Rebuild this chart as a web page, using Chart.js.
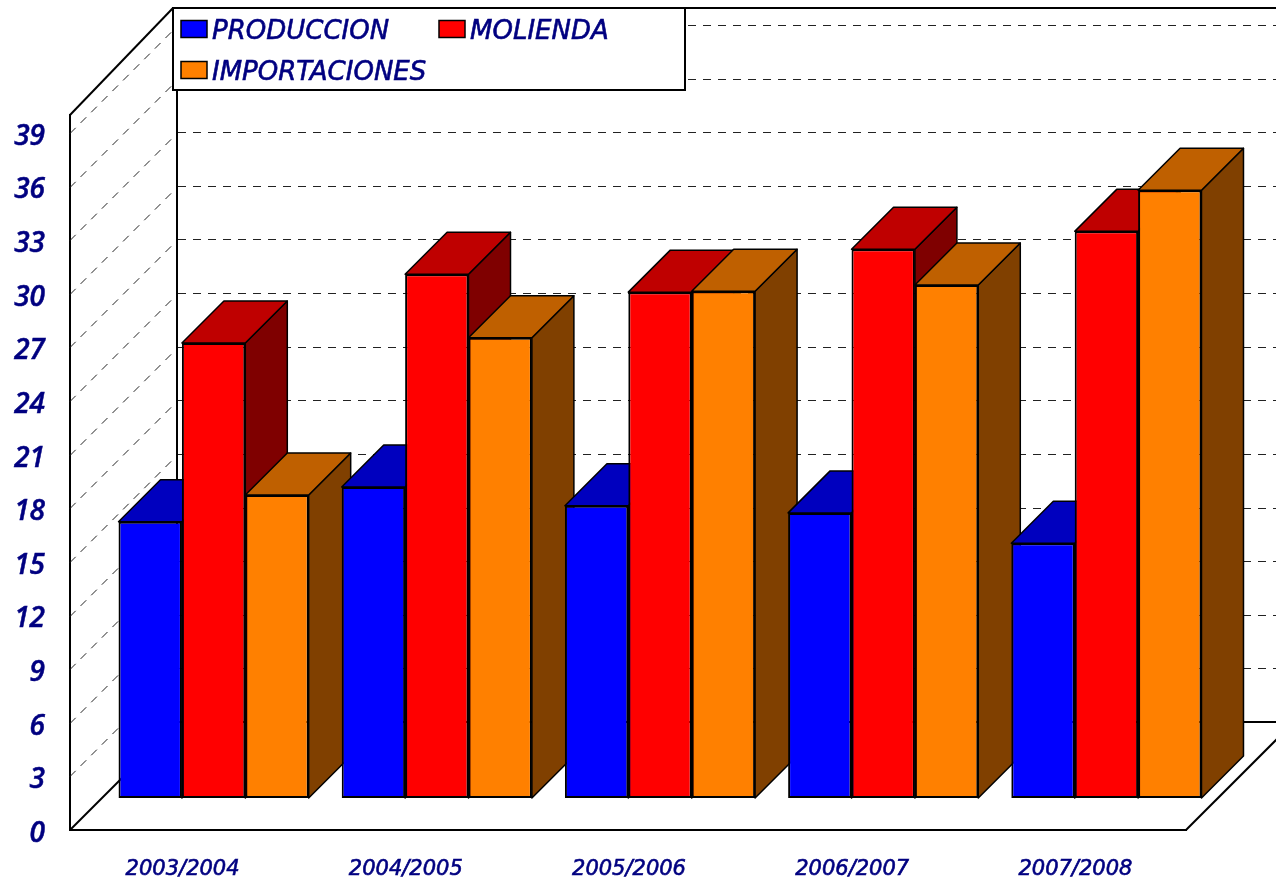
<!DOCTYPE html>
<html lang="es">
<head>
    <meta charset="UTF-8">
    <title>Produccion, molienda e importaciones</title>
    <script src="https://cdn.jsdelivr.net/npm/chart.js@4"></script>
    <style>
        body { margin: 0; background: #ffffff; }
        canvas { display: block; }
    </style>
</head>
<body>
    <canvas id="chart" width="1276" height="878"></canvas>

    <script>
        const campaigns = ['2003/2004', '2004/2005', '2005/2006', '2006/2007', '2007/2008'];
        const produccion = [15.45, 17.4, 16.35, 15.95, 14.25];
        const molienda = [25.45, 29.3, 28.3, 30.7, 31.7];
        const importaciones = [16.95, 25.75, 28.35, 28.7, 34.0];

        const frontColors = ['#0000ff', '#ff0000', '#ff8000'];
        const topColors = ['#0000bf', '#bf0000', '#bf6000'];
        const sideColors = ['#00007f', '#7f0000', '#804000'];

        const navy = '#000080';
        const wallDepth = 108;   // room depth, 45 degrees
        const barShift = { x: 32, y: -32 };   // bars stand in the middle of the floor
        const barDepth = 42;

        function line(ctx, x1, y1, x2, y2) {
            ctx.beginPath();
            ctx.moveTo(x1, y1);
            ctx.lineTo(x2, y2);
            ctx.stroke();
        }

        function face(ctx, points, color) {
            ctx.beginPath();
            points.forEach((p, i) => i ? ctx.lineTo(p[0], p[1]) : ctx.moveTo(p[0], p[1]));
            ctx.closePath();
            ctx.fillStyle = color;
            ctx.fill();
            ctx.stroke();
        }

        const room3d = {
            id: 'room3d',
            beforeDatasetsDraw(chart) {
                const { ctx, scales: { y }, chartArea: area, width } = chart;
                const left = area.left;
                const bottom = area.bottom;
                const right = area.right;

                ctx.save();
                // dashed lines on the side wall and back wall
                ctx.strokeStyle = '#222222';
                ctx.lineWidth = 1;
                ctx.setLineDash([8, 7]);
                y.ticks.forEach(t => {
                    if (t.value === 0) return;
                    const py = Math.round(y.getPixelForValue(t.value)) + 0.5;
                    line(ctx, left, py, left + wallDepth, py - wallDepth);
                    line(ctx, left + wallDepth, py - wallDepth, width, py - wallDepth);
                });
                ctx.setLineDash([]);

                // solid edges of the room
                ctx.strokeStyle = '#000000';
                ctx.lineWidth = 2;
                line(ctx, left + wallDepth - 1, 8, left + wallDepth - 1, bottom - wallDepth);
                line(ctx, left, area.top, left + wallDepth - 5, 8);
                line(ctx, left + wallDepth - 5, 8, width, 8);
                line(ctx, left, bottom, left + wallDepth, bottom - wallDepth);
                line(ctx, left + wallDepth, bottom - wallDepth, width, bottom - wallDepth);
                line(ctx, right, bottom, right + wallDepth, bottom - wallDepth);

                // bars group by group: side and top by hand, the front by the library
                ctx.translate(barShift.x, barShift.y);
                campaigns.forEach((c, n) => {
                    chart.data.datasets.forEach((ds, i) => {
                        const bar = chart.getDatasetMeta(i).data[n];
                        const x1 = bar.x - bar.width / 2;
                        const x2 = bar.x + bar.width / 2;
                        const t = bar.y;
                        const b = bar.base;
                        ctx.strokeStyle = '#000000';
                        ctx.lineWidth = 1.5;
                        ctx.lineJoin = 'round';
                        face(ctx, [[x2, t], [x2 + barDepth, t - barDepth], [x2 + barDepth, b - barDepth], [x2, b]], sideColors[i]);
                        face(ctx, [[x1, t], [x1 + barDepth, t - barDepth], [x2 + barDepth, t - barDepth], [x2, t]], topColors[i]);
                        bar.draw(ctx);
                    });
                });
                ctx.restore();
                return false;
            },
            afterDraw(chart) {
                const { ctx } = chart;
                const slots = [[181, 20.5], [439, 20.5], [181, 61.5]];
                ctx.save();
                ctx.fillStyle = '#ffffff';
                ctx.strokeStyle = '#000000';
                ctx.lineWidth = 2;
                ctx.fillRect(173, 8, 512, 82);
                ctx.strokeRect(173, 8, 512, 82);
                chart.data.datasets.forEach((ds, i) => {
                    const [sx, sy] = slots[i];
                    ctx.fillStyle = frontColors[i];
                    ctx.strokeStyle = '#000000';
                    ctx.lineWidth = 1.5;
                    ctx.fillRect(sx, sy, 26, 17);
                    ctx.strokeRect(sx, sy, 26, 17);
                    ctx.fillStyle = navy;
                    ctx.strokeStyle = navy;
                    ctx.lineWidth = 0.6;
                    ctx.font = 'italic 26px "DejaVu Sans"';
                    ctx.textBaseline = 'middle';
                    ctx.fillText(ds.label, sx + 31, sy + 12);
                    ctx.strokeText(ds.label, sx + 31, sy + 12);
                });
                ctx.restore();
            }
        };

        const datasets = [
            { label: 'PRODUCCION', data: produccion },
            { label: 'MOLIENDA', data: molienda },
            { label: 'IMPORTACIONES', data: importaciones }
        ].map((ds, i) => ({ ...ds, backgroundColor: frontColors[i], borderColor: '#000000', borderWidth: 2, borderSkipped: false }));

        new Chart(document.getElementById('chart'), {
            type: 'bar',
            data: { labels: campaigns, datasets },
            plugins: [room3d],
            options: {
                responsive: false,
                animation: false,
                categoryPercentage: 0.852,
                barPercentage: 1,
                layout: { padding: { top: 115, right: 90, left: 0, bottom: 0 } },
                plugins: { legend: { display: false }, tooltip: { enabled: false } },
                scales: {
                    x: {
                        afterFit(scale) { scale.height = 48; },
                        grid: { display: false },
                        border: { display: true, color: '#000000', width: 2 },
                        ticks: {
                            color: navy,
                            font: { family: 'DejaVu Sans', size: 21, style: 'italic' },
                            textStrokeColor: navy,
                            textStrokeWidth: 0.6,
                            padding: 19,
                            labelOffset: 1,
                            maxRotation: 0,
                            autoSkip: false
                        }
                    },
                    y: {
                        min: 0,
                        max: 40,
                        afterFit(scale) { scale.width = 70; },
                        grid: { display: false, drawTicks: false },
                        border: { display: true, color: '#000000', width: 2 },
                        ticks: {
                            color: navy,
                            stepSize: 3,
                            includeBounds: false,
                            font: { family: 'Open Sans', size: 28, style: 'italic', weight: '600' },
                            textStrokeColor: navy,
                            textStrokeWidth: 0.5,
                            padding: 25,
                            labelOffset: 4
                        }
                    }
                }
            }
        });
    </script>
</body>
</html>
